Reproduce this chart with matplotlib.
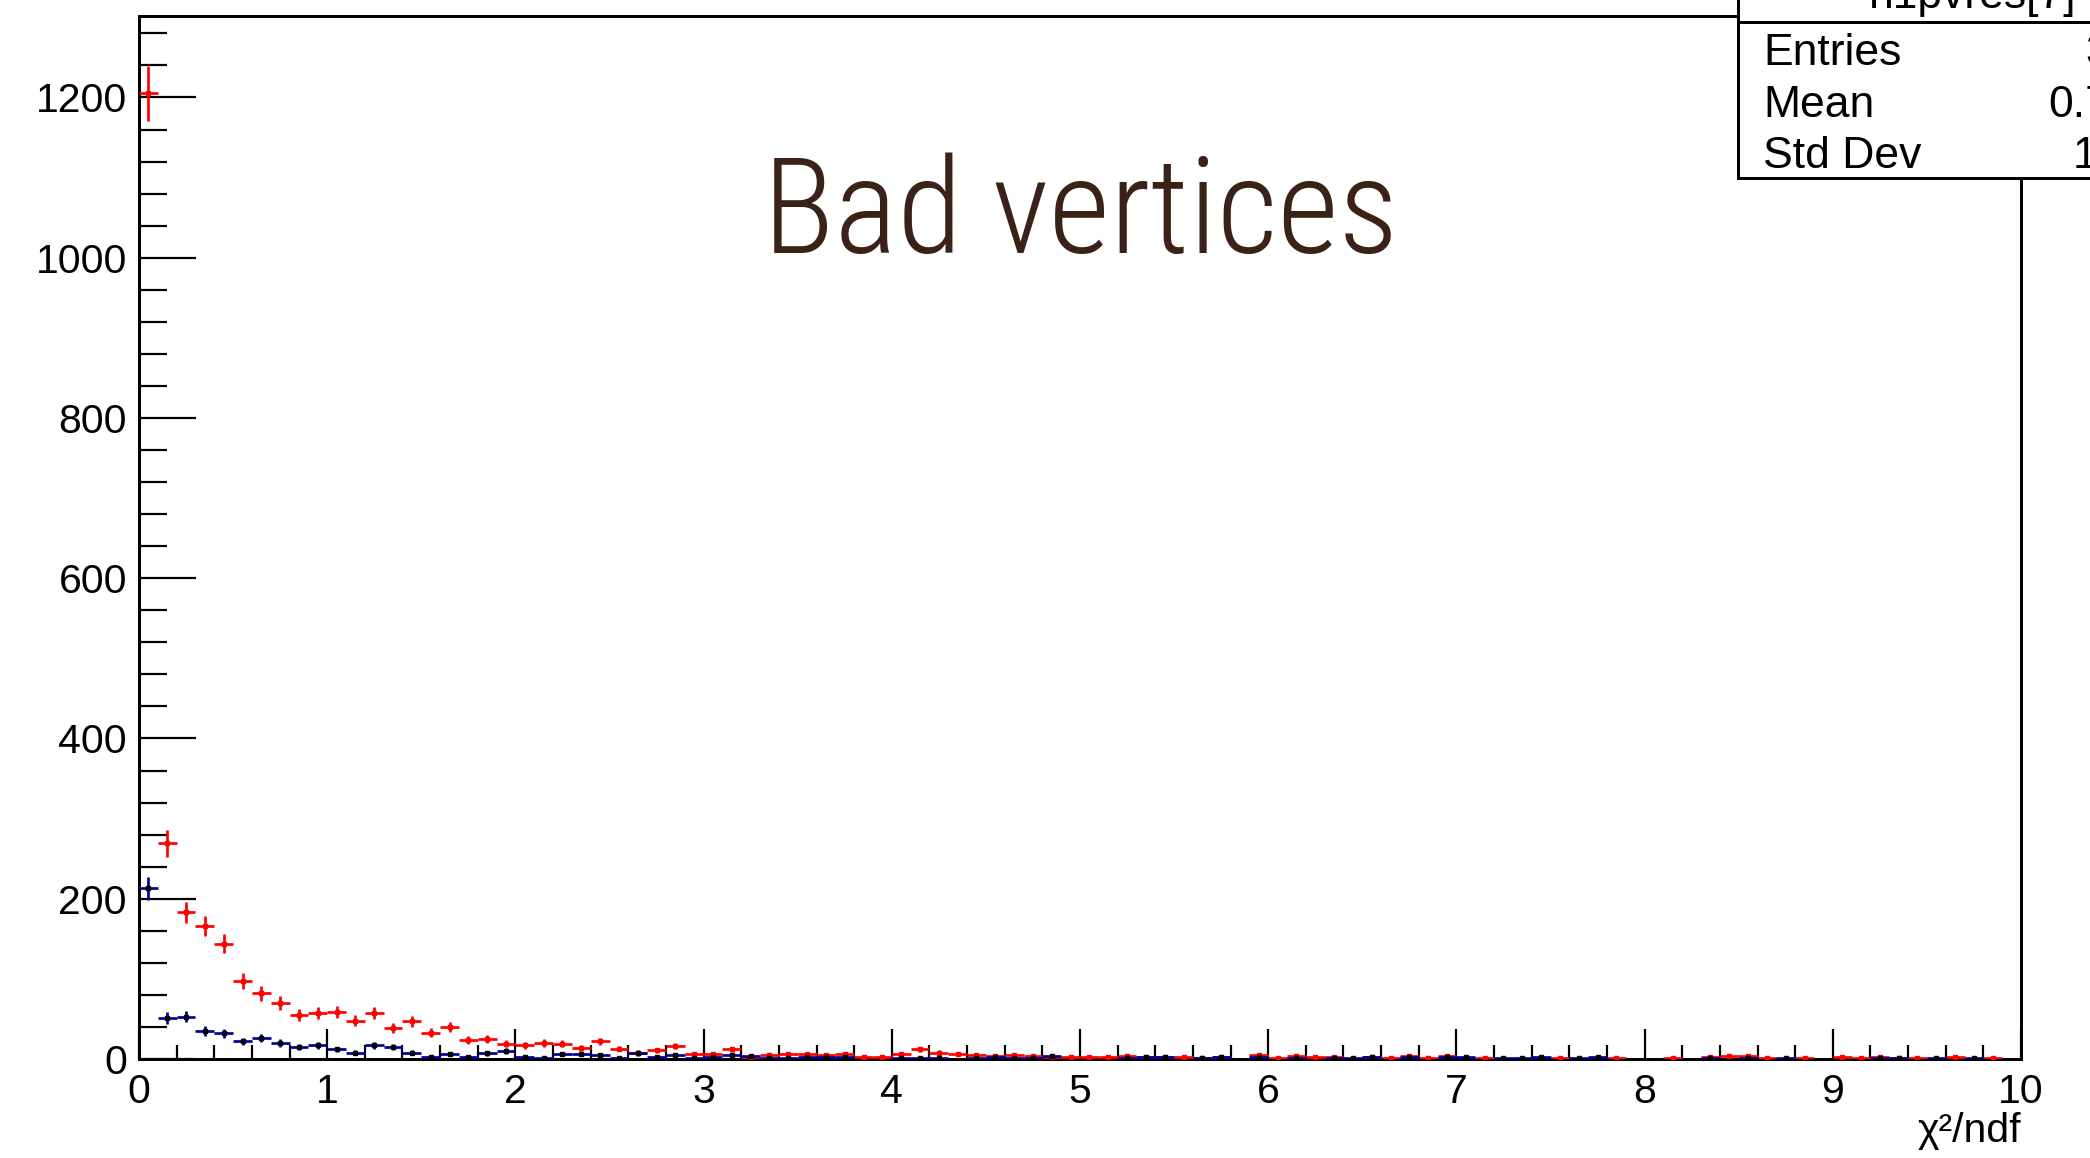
import numpy as np
import matplotlib
matplotlib.use("Agg")
import matplotlib.pyplot as plt
from matplotlib import font_manager
from matplotlib.patches import Rectangle
from matplotlib.lines import Line2D
from matplotlib.ticker import MultipleLocator

# ---- histogram binning -------------------------------------------------
x_min, x_max, n_bins = 0.0, 10.0, 100

# bin contents, 0.1 wide bins from 0 to 10
red_counts = [
    1205, 269, 183, 166, 144, 97, 82, 70, 55, 57,
    59, 48, 57, 39, 47, 33, 40, 24, 25, 19,
    17, 20, 19, 14, 22, 13, 8, 11, 16, 6,
    6, 12, 2, 5, 6, 6, 5, 6, 3, 3,
    6, 12, 8, 6, 5, 4, 5, 4, 2, 3,
    3, 2, 4, 2, 2, 3, 1, 3, 0, 5,
    1, 4, 3, 3, 0, 2, 1, 4, 1, 4,
    0, 1, 0, 0, 0, 1, 0, 0, 1, 0,
    0, 1, 0, 2, 4, 4, 1, 0, 1, 0,
    2, 1, 2, 1, 1, 0, 2, 0, 1, 0,
]
blue_counts = [
    213, 51, 53, 35, 32, 22, 26, 20, 15, 17,
    12, 8, 17, 15, 8, 3, 6, 3, 7, 10,
    2, 1, 6, 6, 5, 1, 7, 3, 5, 1,
    3, 5, 4, 1, 1, 3, 2, 3, 0, 0,
    1, 1, 1, 0, 1, 3, 1, 1, 4, 0,
    0, 0, 1, 2, 2, 0, 1, 2, 0, 2,
    0, 1, 0, 1, 1, 3, 0, 2, 0, 2,
    2, 0, 1, 1, 3, 0, 1, 2, 0, 0,
    0, 0, 0, 1, 0, 1, 0, 1, 0, 0,
    0, 0, 1, 1, 0, 1, 0, 1, 0, 0,
]

x_ticks = [0, 1, 2, 3, 4, 5, 6, 7, 8, 9, 10]
y_ticks = [0, 200, 400, 600, 800, 1000, 1200]
x_label = "\u03c7\u00b2/ndf"
title_text = "Bad vertices"
stats_name = "h1pvres[7]"

# ---- figure geometry (pixels) ------------------------------------------
W, H, DPI = 2090, 1158, 100
PX = 72.0 / DPI  # points per pixel

def fx(px):
    return px / W

def fy(py):
    return 1.0 - py / H

plt.rcParams["font.family"] = ["Liberation Sans", "DejaVu Sans"]

fig = plt.figure(figsize=(W / DPI, H / DPI), dpi=DPI)
fig.patch.set_facecolor("white")

ax_left, ax_right, ax_top, ax_bottom = 139, 2021, 16, 1059
ax = fig.add_axes([fx(ax_left), fy(ax_bottom),
                   fx(ax_right - ax_left), (ax_bottom - ax_top) / H])

edges = np.linspace(x_min, x_max, n_bins + 1)
centers = 0.5 * (edges[:-1] + edges[1:])
half_w = 0.5 * (edges[1] - edges[0])

red = np.asarray(red_counts, dtype=float)
blue = np.asarray(blue_counts, dtype=float)

lw_err = 2.7 * PX

def draw_hist(counts, color, marker_color):
    m = counts > 0
    ax.errorbar(centers[m], counts[m], xerr=half_w, yerr=np.sqrt(counts[m]),
                fmt="none", ecolor=color, elinewidth=lw_err, capsize=0,
                zorder=3)
    ax.plot(centers[m], counts[m], linestyle="none", marker="s",
            markersize=3.2 * PX, color=marker_color, zorder=4)

draw_hist(red, "#ff0000", "#ff0000")
draw_hist(blue, "#000099", "black")

ymax = 1.05 * np.max(red + np.sqrt(red))
ax.set_xlim(x_min, x_max)
ax.set_ylim(0, ymax)

ax.set_xticks(x_ticks)
ax.set_yticks(y_ticks)
ax.xaxis.set_minor_locator(MultipleLocator(0.2))
ax.yaxis.set_minor_locator(MultipleLocator(40))

for s in ax.spines.values():
    s.set_linewidth(3 * PX)
    s.set_color("black")

ax.tick_params(axis="both", which="both", direction="in", top=False,
               right=False, color="black", width=2.2 * PX)
ax.tick_params(axis="y", which="major", length=57 * PX, pad=12 * PX,
               labelsize=29.5)
ax.tick_params(axis="y", which="minor", length=28 * PX)
ax.tick_params(axis="x", which="major", length=30 * PX, pad=14 * PX,
               labelsize=29.5)
ax.tick_params(axis="x", which="minor", length=14 * PX)

# axis title, right aligned under the x axis
fig.text(fx(2021), fy(1142), x_label, ha="right", va="baseline",
         fontsize=29.5)

# ---- big title ----------------------------------------------------------
names = {f.name for f in font_manager.fontManager.ttflist}
title_family, title_size = "Lato", 86
for fam, size in [("Liberation Sans Narrow", 99), ("Roboto Condensed", 96),
                  ("Open Sans Condensed", 96), ("Lato", 86)]:
    if fam in names:
        title_family, title_size = fam, size
        break
fig.text(fx(1081), fy(253), title_text, ha="center", va="baseline",
         color="#3b2219", fontsize=title_size, family=title_family,
         fontweight="light")

# ---- statistics box -----------------------------------------------------
box_left, box_bottom, sep_y = 1738, 178, 22
fig.add_artist(Rectangle((fx(box_left), fy(box_bottom)),
                         fx(600), (box_bottom + 100) / H,
                         transform=fig.transFigure, facecolor="white",
                         edgecolor="black", linewidth=3 * PX,
                         clip_on=False, zorder=5))
fig.add_artist(Line2D([fx(box_left), fx(2400)], [fy(sep_y), fy(sep_y)],
                      transform=fig.transFigure, color="black",
                      linewidth=3 * PX, clip_on=False, zorder=6))

n_entries = int(red.sum())
mean = float(np.sum(red * centers) / red.sum())
std = float(np.sqrt(np.sum(red * (centers - mean) ** 2) / red.sum()))
stats_rows = [("Entries", f"{n_entries}"),
              ("Mean", f"{mean:.4g}"),
              ("Std Dev", f"{std:.4g}")]

fig.text(fx(1973), fy(8), stats_name, ha="center", va="baseline",
         fontsize=32, zorder=7)
for (lab, val), base in zip(stats_rows, [65, 117, 168]):
    fig.text(fx(1763), fy(base), lab, ha="left", va="baseline",
             fontsize=32, zorder=7)
    fig.text(fx(2184), fy(base), val, ha="right", va="baseline",
             fontsize=32, zorder=7)

fig.savefig("out.png", dpi=DPI)
